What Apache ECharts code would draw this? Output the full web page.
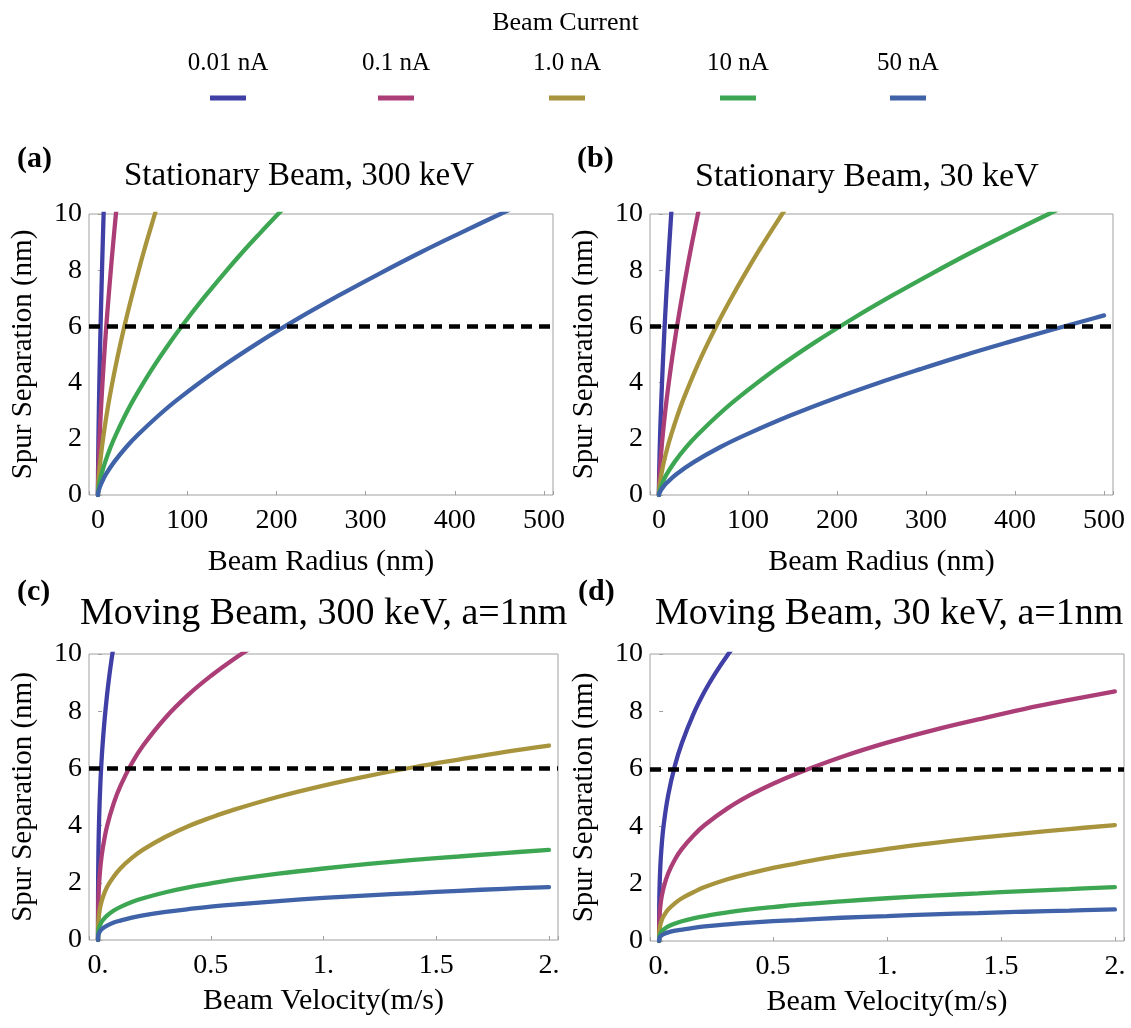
<!DOCTYPE html>
<html>
<head>
<meta charset="utf-8">
<script src="https://cdn.jsdelivr.net/npm/echarts@6/dist/echarts.min.js"></script>
<style>
html,body{margin:0;padding:0;background:#ffffff;}
#chart{width:1131px;height:1028px;}
</style>
</head>
<body>
<div id="chart"></div>
<script>
// ---------------- data ----------------
const seriesNames = ['0.01 nA', '0.1 nA', '1.0 nA', '10 nA', '50 nA'];
const threshold = 6;

const yTickValues = [0, 2, 4, 6, 8, 10];
const yTickLabels = ['0', '2', '4', '6', '8', '10'];
const radiusTickValues = [0, 100, 200, 300, 400, 500];
const radiusTickLabels = ['0', '100', '200', '300', '400', '500'];
const velocityTickValues = [0, 0.5, 1, 1.5, 2];
const velocityTickLabels = ['0.', '0.5', '1.', '1.5', '2.'];

// (a) Stationary beam, 300 keV : beam radius (nm) -> spur separation (nm)
const a_x_001 = [0, 0.0064, 0.032, 0.064, 0.128, 0.255, 0.447, 0.638, 0.957, 1.28, 1.91, 2.55, 3.19, 3.83, 4.47, 5.10, 5.74, 6.38, 6.70];
const a_x_01  = [0, 0.02, 0.10, 0.20, 0.40, 0.81, 1.41, 2.02, 3.03, 4.04, 6.05, 8.07, 10.09, 12.11, 14.13, 16.14, 18.16, 20.18, 21.19];
const a_x_1   = [0, 0.064, 0.32, 0.64, 1.28, 2.55, 4.47, 6.38, 9.57, 12.76, 19.14, 25.52, 31.9, 38.28, 44.66, 51.04, 57.42, 63.8, 66.99];
const a_x_10  = [0, 0.2, 1.01, 2.02, 4.04, 8.08, 14.13, 20.19, 30.29, 40.38, 60.57, 80.76, 100.95, 121.1, 141.3, 161.5, 181.7, 201.9, 212.0];
const a_x_50  = [0, 0.45, 2.26, 4.51, 9.02, 18.04, 31.57, 45.1, 67.65, 90.2, 135.3, 180.4, 225.5, 270.6, 315.7, 360.8, 405.9, 451, 473.6];
const a_y_001 = [0, 0.10, 0.29, 0.46, 0.74, 1.17, 1.70, 2.15, 2.82, 3.42, 4.48, 5.43, 6.30, 7.11, 7.88, 8.62, 9.32, 10, 10.33];
const a_y_01  = [0, 0.10, 0.29, 0.46, 0.74, 1.17, 1.70, 2.15, 2.82, 3.42, 4.48, 5.43, 6.30, 7.11, 7.88, 8.62, 9.32, 10, 10.33];
const a_y_1   = [0, 0.10, 0.29, 0.46, 0.74, 1.17, 1.70, 2.15, 2.82, 3.42, 4.48, 5.43, 6.30, 7.11, 7.88, 8.62, 9.32, 10, 10.33];
const a_y_10  = [0, 0.10, 0.29, 0.46, 0.74, 1.17, 1.70, 2.15, 2.82, 3.42, 4.48, 5.43, 6.30, 7.11, 7.88, 8.62, 9.32, 10, 10.33];
const a_y_50  = [0, 0.10, 0.29, 0.46, 0.74, 1.17, 1.70, 2.15, 2.82, 3.42, 4.48, 5.43, 6.30, 7.11, 7.88, 8.62, 9.32, 10, 10.33];

// (b) Stationary beam, 30 keV
const b_x_001 = [0, 0.014, 0.069, 0.138, 0.277, 0.554, 0.969, 1.384, 2.076, 2.768, 4.152, 5.536, 6.92, 8.30, 9.69, 11.07, 12.46, 13.84, 14.53];
const b_x_01  = [0, 0.044, 0.22, 0.44, 0.88, 1.75, 3.07, 4.38, 6.57, 8.76, 13.14, 17.52, 21.9, 26.28, 30.66, 35.04, 39.42, 43.8, 45.99];
const b_x_1   = [0, 0.14, 0.69, 1.38, 2.77, 5.54, 9.69, 13.84, 20.76, 27.68, 41.52, 55.36, 69.2, 83.04, 96.88, 110.7, 124.6, 138.4, 145.3];
const b_x_10  = [0, 0.44, 2.19, 4.38, 8.76, 17.51, 30.65, 43.78, 65.67, 87.56, 131.3, 175.1, 218.9, 262.7, 306.5, 350.2, 394.0, 437.8, 459.7];
const b_x_50  = [0, 0.98, 4.9, 9.79, 19.58, 39.16, 68.53, 97.9, 146.85, 195.8, 244.8, 293.7, 342.6, 391.6, 440.5, 489.5, 500];
const b_y_001 = [0, 0.10, 0.29, 0.46, 0.74, 1.17, 1.70, 2.15, 2.82, 3.42, 4.48, 5.43, 6.30, 7.11, 7.88, 8.62, 9.32, 10, 10.33];
const b_y_01  = [0, 0.10, 0.29, 0.46, 0.74, 1.17, 1.70, 2.15, 2.82, 3.42, 4.48, 5.43, 6.30, 7.11, 7.88, 8.62, 9.32, 10, 10.33];
const b_y_1   = [0, 0.10, 0.29, 0.46, 0.74, 1.17, 1.70, 2.15, 2.82, 3.42, 4.48, 5.43, 6.30, 7.11, 7.88, 8.62, 9.32, 10, 10.33];
const b_y_10  = [0, 0.10, 0.29, 0.46, 0.74, 1.17, 1.70, 2.15, 2.82, 3.42, 4.48, 5.43, 6.30, 7.11, 7.88, 8.62, 9.32, 10, 10.33];
const b_y_50  = [0, 0.10, 0.29, 0.46, 0.74, 1.17, 1.70, 2.15, 2.82, 3.42, 3.97, 4.48, 4.97, 5.43, 5.87, 6.30, 6.39];

// (c) Moving beam, 300 keV, a=1nm : beam velocity (m/s) -> spur separation (nm)
const c_x_001 = [0, 0.0001, 0.0005, 0.001, 0.002, 0.005, 0.01, 0.015, 0.02, 0.03, 0.04, 0.05, 0.06, 0.07];
const c_x_01  = [0, 0.0005, 0.002, 0.005, 0.01, 0.02, 0.04, 0.07, 0.1, 0.15, 0.2, 0.3, 0.4, 0.5, 0.6, 0.7];
const c_x_1   = [0, 0.0005, 0.002, 0.005, 0.01, 0.02, 0.04, 0.07, 0.1, 0.15, 0.2, 0.3, 0.4, 0.5, 0.6, 0.8, 1.0, 1.2, 1.4, 1.6, 1.8, 2.0];
const c_x_10  = [0, 0.0005, 0.002, 0.005, 0.01, 0.02, 0.04, 0.07, 0.1, 0.15, 0.2, 0.3, 0.4, 0.5, 0.6, 0.8, 1.0, 1.2, 1.4, 1.6, 1.8, 2.0];
const c_x_50  = [0, 0.0005, 0.002, 0.005, 0.01, 0.02, 0.04, 0.07, 0.1, 0.15, 0.2, 0.3, 0.4, 0.5, 0.6, 0.8, 1.0, 1.2, 1.4, 1.6, 1.8, 2.0];
const c_y_001 = [0, 1.16, 1.99, 2.51, 3.16, 4.28, 5.40, 6.18, 6.80, 7.78, 8.57, 9.23, 9.81, 10.32];
const c_y_01  = [0, 0.92, 1.47, 1.99, 2.51, 3.16, 3.98, 4.79, 5.40, 6.18, 6.80, 7.78, 8.57, 9.23, 9.81, 10.32];
const c_y_1   = [0, 0.43, 0.68, 0.92, 1.16, 1.46, 1.85, 2.22, 2.51, 2.87, 3.16, 3.61, 3.98, 4.28, 4.55, 5.01, 5.40, 5.74, 6.04, 6.31, 6.57, 6.80];
const c_y_10  = [0, 0.20, 0.32, 0.43, 0.54, 0.68, 0.85, 1.03, 1.16, 1.33, 1.46, 1.67, 1.84, 1.98, 2.11, 2.32, 2.50, 2.66, 2.80, 2.92, 3.04, 3.15];
const c_y_50  = [0, 0.12, 0.19, 0.25, 0.32, 0.40, 0.50, 0.61, 0.68, 0.78, 0.86, 0.98, 1.08, 1.17, 1.24, 1.36, 1.47, 1.56, 1.64, 1.72, 1.79, 1.85];

// (d) Moving beam, 30 keV, a=1nm
const d_x_001 = [0, 0.0005, 0.002, 0.005, 0.01, 0.02, 0.04, 0.07, 0.1, 0.15, 0.2, 0.25, 0.3, 0.35];
const d_x_01  = [0, 0.0005, 0.002, 0.005, 0.01, 0.02, 0.04, 0.07, 0.1, 0.15, 0.2, 0.3, 0.4, 0.5, 0.6, 0.8, 1.0, 1.2, 1.4, 1.6, 1.8, 2.0];
const d_x_1   = [0, 0.0005, 0.002, 0.005, 0.01, 0.02, 0.04, 0.07, 0.1, 0.15, 0.2, 0.3, 0.4, 0.5, 0.6, 0.8, 1.0, 1.2, 1.4, 1.6, 1.8, 2.0];
const d_x_10  = [0, 0.0005, 0.002, 0.005, 0.01, 0.02, 0.04, 0.07, 0.1, 0.15, 0.2, 0.3, 0.4, 0.5, 0.6, 0.8, 1.0, 1.2, 1.4, 1.6, 1.8, 2.0];
const d_x_50  = [0, 0.0005, 0.002, 0.005, 0.01, 0.02, 0.04, 0.07, 0.1, 0.15, 0.2, 0.3, 0.4, 0.5, 0.6, 0.8, 1.0, 1.2, 1.4, 1.6, 1.8, 2.0];
const d_y_001 = [0, 1.18, 1.87, 2.54, 3.20, 4.04, 5.09, 6.13, 6.90, 7.90, 8.70, 9.37, 9.96, 10.48];
const d_y_01  = [0, 0.55, 0.87, 1.18, 1.49, 1.87, 2.36, 2.85, 3.21, 3.67, 4.04, 4.62, 5.09, 5.48, 5.82, 6.41, 6.91, 7.34, 7.72, 8.08, 8.40, 8.70];
const d_y_1   = [0, 0.25, 0.40, 0.55, 0.69, 0.87, 1.10, 1.32, 1.49, 1.70, 1.88, 2.15, 2.36, 2.55, 2.70, 2.98, 3.21, 3.41, 3.59, 3.75, 3.90, 4.04];
const d_y_10  = [0, 0.12, 0.19, 0.25, 0.32, 0.40, 0.51, 0.61, 0.69, 0.79, 0.87, 1.00, 1.10, 1.18, 1.26, 1.38, 1.49, 1.58, 1.66, 1.74, 1.81, 1.88];
const d_y_50  = [0, 0.07, 0.11, 0.15, 0.19, 0.24, 0.30, 0.36, 0.40, 0.46, 0.51, 0.58, 0.64, 0.69, 0.73, 0.81, 0.87, 0.93, 0.97, 1.02, 1.06, 1.10];

// ---------------- styling / layout ----------------
const FONT = 'Liberation Serif';
const seriesColors = ['#3F3FA6', '#AC3E77', '#A8943C', '#3DA652', '#3F62A8'];
const frameColor = '#a0a0a0';

const panels = [
  { grid: { left: 89,  top: 214, width: 464, height: 281 }, xMin: -10,   xMax: 510,  xName: 'Beam Radius (nm)',   xNameGap: 52,
    ticks: radiusTickValues, labels: radiusTickLabels, xs: [a_x_001, a_x_01, a_x_1, a_x_10, a_x_50], ys: [a_y_001, a_y_01, a_y_1, a_y_10, a_y_50] },
  { grid: { left: 650, top: 214, width: 463, height: 281 }, xMin: -10,   xMax: 510,  xName: 'Beam Radius (nm)',   xNameGap: 52,
    ticks: radiusTickValues, labels: radiusTickLabels, xs: [b_x_001, b_x_01, b_x_1, b_x_10, b_x_50], ys: [b_y_001, b_y_01, b_y_1, b_y_10, b_y_50] },
  { grid: { left: 89,  top: 654, width: 469, height: 286 }, xMin: -0.04, xMax: 2.04, xName: 'Beam Velocity(m/s)', xNameGap: 46,
    ticks: velocityTickValues, labels: velocityTickLabels, xs: [c_x_001, c_x_01, c_x_1, c_x_10, c_x_50], ys: [c_y_001, c_y_01, c_y_1, c_y_10, c_y_50] },
  { grid: { left: 650, top: 654, width: 474, height: 287 }, xMin: -0.04, xMax: 2.04, xName: 'Beam Velocity(m/s)', xNameGap: 46,
    ticks: velocityTickValues, labels: velocityTickLabels, xs: [d_x_001, d_x_01, d_x_1, d_x_10, d_x_50], ys: [d_y_001, d_y_01, d_y_1, d_y_10, d_y_50] }
];

function tickFormatter(values, labels) {
  return function (v) {
    for (let k = 0; k < values.length; k++) {
      if (Math.abs(values[k] - v) < 1e-9) return labels[k];
    }
    return '';
  };
}

const grids = [], xAxes = [], yAxes = [], series = [];
panels.forEach((p, pi) => {
  grids.push(Object.assign({ show: true, borderColor: frameColor, borderWidth: 1, backgroundColor: 'transparent' }, p.grid));
  xAxes.push({
    type: 'value', gridIndex: pi, min: p.xMin, max: p.xMax, splitNumber: 5,
    name: p.xName, nameLocation: 'middle', nameGap: p.xNameGap,
    nameTextStyle: { fontFamily: FONT, fontSize: 30, color: '#000' },
    axisLine: { show: false },
    axisTick: { show: true, inside: true, length: 4, lineStyle: { color: frameColor } },
    splitLine: { show: false },
    axisLabel: { fontFamily: FONT, fontSize: 28, color: '#000', margin: 12, formatter: tickFormatter(p.ticks, p.labels) }
  });
  yAxes.push({
    type: 'value', gridIndex: pi, min: 0, max: 10, interval: 2,
    name: 'Spur Separation (nm)', nameLocation: 'middle', nameGap: 51,
    nameTextStyle: { fontFamily: FONT, fontSize: 29, color: '#000' },
    axisLine: { show: false },
    axisTick: { show: true, inside: true, length: 4, lineStyle: { color: frameColor } },
    splitLine: { show: false },
    axisLabel: { fontFamily: FONT, fontSize: 28, color: '#000', margin: 7, formatter: tickFormatter(yTickValues, yTickLabels) }
  });
  // dashed threshold line at 6 nm
  series.push({
    type: 'line', name: 'threshold', xAxisIndex: pi, yAxisIndex: pi, data: [], z: 1, silent: true,
    markLine: {
      silent: true, symbol: ['none', 'none'], animation: false,
      label: { show: false },
      lineStyle: { color: '#000', width: 4.5, type: [11, 7] },
      emphasis: { disabled: true },
      data: [{ yAxis: threshold }]
    }
  });
  seriesNames.forEach((name, si) => {
    const xs = p.xs[si], ys = p.ys[si];
    series.push({
      type: 'line', name: name, xAxisIndex: pi, yAxisIndex: pi, z: 3,
      data: xs.map((x, k) => [x, ys[k]]),
      showSymbol: false, symbol: 'none', smooth: 0.4, clip: true,
      color: seriesColors[si],
      lineStyle: { width: 4.3, color: seriesColors[si], cap: 'round' },
      emphasis: { disabled: true }
    });
  });
});

// legend: icon row with the label centred above each icon
const legendFontSize = 25;
const legendIconLeft = [210, 378, 549, 720, 890];
const legendTop = 28;
const legendTextWidth = [80.6, 68, 68, 61.8, 61.8];
const legends = seriesNames.map((name, i) => {
  const w = legendTextWidth[i];
  return {
    data: [name], orient: 'horizontal', padding: 0,
    left: legendIconLeft[i] - (w / 2 - 18), top: legendTop,
    itemWidth: 36, itemHeight: 5, icon: 'rect', selectedMode: false,
    formatter: function (n) { return n + '\n '; },
    textStyle: { fontFamily: FONT, fontSize: legendFontSize, color: '#000', lineHeight: 70, padding: [0, 0, 0, -23 - w / 2] }
  };
});

const titleStyle = (size, bold) => ({ fontFamily: FONT, fontSize: size, color: '#000', fontWeight: bold ? 'bold' : 'normal' });
const titles = [
  { text: 'Beam Current', left: 'center', top: 10, padding: 0, textStyle: titleStyle(26, false) },
  { text: '(a)', left: 17,  top: 144, padding: 0, textStyle: titleStyle(30, true) },
  { text: 'Stationary Beam, 300 keV', left: 124, top: 160, padding: 0, textStyle: titleStyle(33, false) },
  { text: '(b)', left: 577, top: 144, padding: 0, textStyle: titleStyle(30, true) },
  { text: 'Stationary Beam, 30 keV', left: 695, top: 160, padding: 0, textStyle: titleStyle(34, false) },
  { text: '(c)', left: 17,  top: 577, padding: 0, textStyle: titleStyle(30, true) },
  { text: 'Moving Beam, 300 keV, a=1nm', left: 80, top: 595, padding: 0, textStyle: titleStyle(38, false) },
  { text: '(d)', left: 578, top: 577, padding: 0, textStyle: titleStyle(30, true) },
  { text: 'Moving Beam, 30 keV, a=1nm', left: 655, top: 595, padding: 0, textStyle: titleStyle(38, false) }
];

const chart = echarts.init(document.getElementById('chart'), null, { renderer: 'canvas' });
chart.setOption({
  backgroundColor: '#ffffff',
  animation: false,
  title: titles,
  legend: legends,
  grid: grids,
  xAxis: xAxes,
  yAxis: yAxes,
  series: series
});
</script>
</body>
</html>
